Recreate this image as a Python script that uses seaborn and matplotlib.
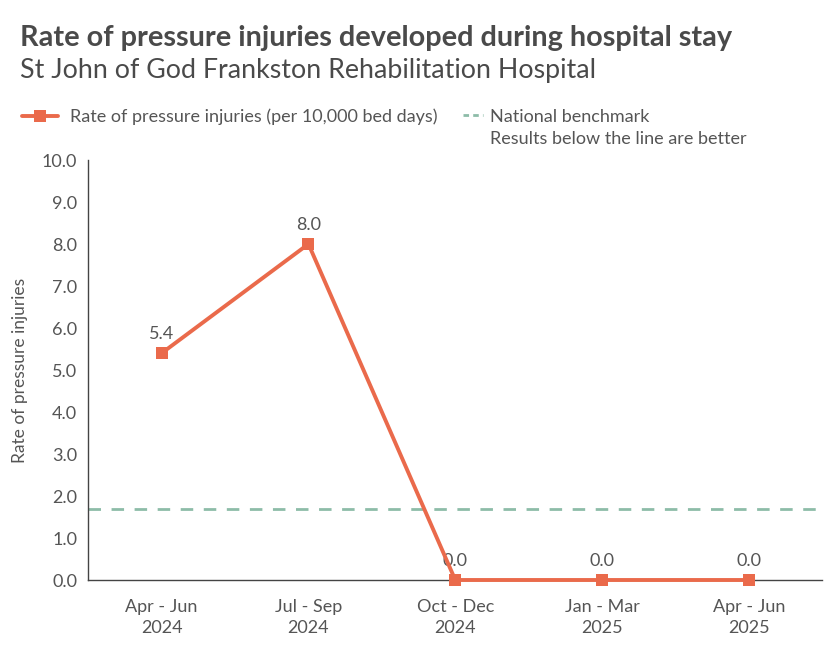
import pandas as pd
import matplotlib.pyplot as plt
import seaborn as sns
from matplotlib.lines import Line2D

# 데이터
quarters = ['Apr - Jun\n2024', 'Jul - Sep\n2024', 'Oct - Dec\n2024', 'Jan - Mar\n2025', 'Apr - Jun\n2025']
rates = [5.4, 8.0, 0.0, 0.0, 0.0]
benchmark = 1.7
yticks = [0, 1, 2, 3, 4, 5, 6, 7, 8, 9, 10]

line_color = '#EA6A4B'
bench_color = '#8DBCA8'
text_color = '#555555'

sns.set_theme(style='white')
plt.rcParams['font.family'] = ['Lato', 'DejaVu Sans']
plt.rcParams['text.color'] = text_color
plt.rcParams['axes.labelcolor'] = text_color
plt.rcParams['xtick.color'] = text_color
plt.rcParams['ytick.color'] = text_color

df = pd.DataFrame({'quarter': quarters, 'rate': rates})

fig = plt.figure(figsize=(8.4, 6.55), dpi=100)
ax = fig.add_axes([0.105, 0.1145, 0.874, 0.6412])

sns.lineplot(data=df, x='quarter', y='rate', ax=ax, color=line_color, linewidth=2.8,
             marker='s', markersize=9, markeredgewidth=0, sort=False, clip_on=False, zorder=5)
ax.axhline(benchmark, color=bench_color, linestyle=(0, (4.5, 3.8)), linewidth=2)

# 값 라벨
for i, v in enumerate(rates):
    ax.annotate(f'{v:.1f}', (i, v), xytext=(0, 8), textcoords='offset points',
                ha='center', va='bottom', fontsize=13, color=text_color)

ax.set_xlim(-0.5, len(quarters) - 0.5)
ax.set_ylim(0, 10)
ax.set_yticks(yticks)
ax.set_yticklabels([f'{t:.1f}' for t in yticks])
ax.tick_params(axis='y', labelsize=13, length=0, pad=8)
ax.tick_params(axis='x', labelsize=13, length=0, pad=14)
for lab in ax.get_xticklabels():
    lab.set_linespacing(1.35)
ax.set_xlabel('')
ax.set_ylabel('Rate of pressure injuries', fontsize=12.5, labelpad=10)

sns.despine(ax=ax)
ax.spines['left'].set_color('#444444')
ax.spines['bottom'].set_color('#444444')
ax.spines['left'].set_linewidth(1)
ax.spines['bottom'].set_linewidth(1)

fig.text(0.024, 0.942, 'Rate of pressure injuries developed during hospital stay',
         fontsize=20.8, fontweight='bold', color='#4a4a4a', va='center')
fig.text(0.024, 0.893, 'St John of God Frankston Rehabilitation Hospital',
         fontsize=19.3, color='#4a4a4a', va='center')

# 범례 (두 개로 분리)
fig.legend([Line2D([], [], color=line_color, linewidth=2.8, marker='s',
                   markersize=9, markeredgewidth=0)],
           ['Rate of pressure injuries (per 10,000 bed days)'],
           loc='upper left', bbox_to_anchor=(0.026, 0.834), frameon=False,
           fontsize=13, handlelength=2.0, handletextpad=0.66,
           borderpad=0, borderaxespad=0, labelcolor=text_color)
fig.legend([Line2D([], [], color=bench_color, linestyle=(0, (2, 1.5)), linewidth=2)],
           ['National benchmark'],
           loc='upper left', bbox_to_anchor=(0.551, 0.834), frameon=False,
           fontsize=13, handlelength=1.1, handletextpad=0.4,
           borderpad=0, borderaxespad=0, labelcolor=text_color)
fig.text(0.583, 0.788, 'Results below the line are better', fontsize=13,
         color=text_color, va='center')

fig.savefig('out.png', dpi=100)
